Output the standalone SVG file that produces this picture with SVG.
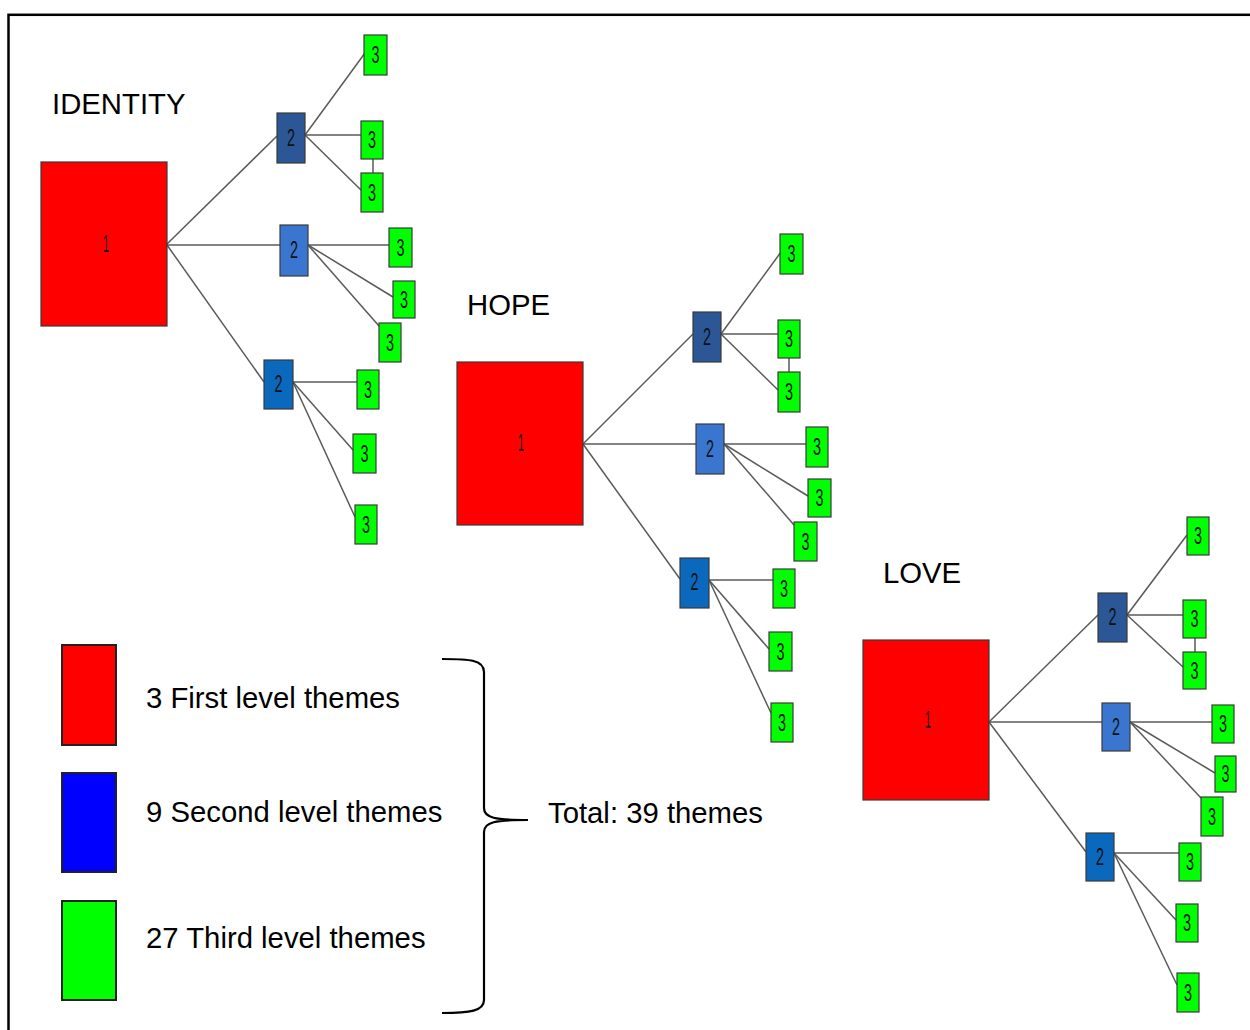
<svg xmlns="http://www.w3.org/2000/svg" width="1250" height="1030" viewBox="0 0 1250 1030">
<style>
.n rect{stroke:#3a3a3a;stroke-width:1.2}
.r{fill:#ff0000}
.d{fill:#2b5797}
.m{fill:#3a76cf}
.b{fill:#0a68bd}
.g{fill:#00ff00}
.nt{font-family:"Liberation Sans",Arial,sans-serif;font-size:23px;fill:#111;text-anchor:middle;dominant-baseline:central}
.lab{font-family:"Liberation Sans",Arial,sans-serif;font-size:29.3px;fill:#000}
#edges line{stroke:#5a5a5a;stroke-width:1.5}
.leg{stroke:#222;stroke-width:2}
</style>
<rect x="8.5" y="14.8" width="1300" height="1100" fill="none" stroke="#000" stroke-width="2.5"/>
<g id="edges">
<line x1="167" y1="244" x2="277" y2="136"/>
<line x1="167" y1="245" x2="280" y2="245"/>
<line x1="167" y1="245" x2="264" y2="382"/>
<line x1="305" y1="135" x2="365" y2="53"/>
<line x1="305" y1="135" x2="361" y2="135"/>
<line x1="305" y1="135" x2="361" y2="190"/>
<line x1="373" y1="159" x2="373" y2="173"/>
<line x1="308" y1="245" x2="389" y2="245"/>
<line x1="308" y1="245" x2="393" y2="297"/>
<line x1="308" y1="245" x2="379" y2="326"/>
<line x1="293" y1="382" x2="357" y2="382"/>
<line x1="293" y1="382" x2="353" y2="450"/>
<line x1="293" y1="382" x2="355" y2="517"/>
<line x1="583" y1="444" x2="693" y2="334"/>
<line x1="583" y1="444" x2="696" y2="444"/>
<line x1="583" y1="444" x2="680" y2="579"/>
<line x1="721" y1="334" x2="781" y2="252"/>
<line x1="721" y1="334" x2="778" y2="334"/>
<line x1="721" y1="334" x2="778" y2="390"/>
<line x1="789" y1="358" x2="789" y2="372"/>
<line x1="724" y1="444" x2="806" y2="444"/>
<line x1="724" y1="444" x2="808" y2="496"/>
<line x1="724" y1="444" x2="794" y2="525"/>
<line x1="709" y1="580" x2="773" y2="580"/>
<line x1="709" y1="580" x2="769" y2="649"/>
<line x1="709" y1="580" x2="771" y2="713"/>
<line x1="989" y1="722" x2="1098" y2="615"/>
<line x1="989" y1="722" x2="1102" y2="722"/>
<line x1="989" y1="722" x2="1086" y2="852"/>
<line x1="1127" y1="615" x2="1187" y2="535"/>
<line x1="1127" y1="615" x2="1183" y2="615"/>
<line x1="1127" y1="615" x2="1183" y2="667"/>
<line x1="1195" y1="638" x2="1195" y2="652"/>
<line x1="1130" y1="722" x2="1212" y2="722"/>
<line x1="1130" y1="722" x2="1215" y2="773"/>
<line x1="1130" y1="722" x2="1201" y2="798"/>
<line x1="1114" y1="853" x2="1179" y2="853"/>
<line x1="1114" y1="853" x2="1176" y2="920"/>
<line x1="1114" y1="853" x2="1177" y2="985"/>
</g>
<g id="identity">
<text class="lab" x="52" y="114">IDENTITY</text>
<g id="id-1" class="n"><rect class="r" x="41" y="162" width="126" height="164"/><text class="nt" x="106" y="244" textLength="6" lengthAdjust="spacingAndGlyphs">1</text></g>
<g id="id-2a" class="n"><rect class="d" x="277" y="113" width="28" height="50"/><text class="nt" x="291" y="138" textLength="8" lengthAdjust="spacingAndGlyphs">2</text></g>
<g id="id-3a" class="n"><rect class="g" x="364" y="35" width="23" height="40"/><text class="nt" x="375.5" y="55" textLength="8" lengthAdjust="spacingAndGlyphs">3</text></g>
<g id="id-3b" class="n"><rect class="g" x="361" y="121" width="22" height="38"/><text class="nt" x="372" y="140" textLength="8" lengthAdjust="spacingAndGlyphs">3</text></g>
<g id="id-3c" class="n"><rect class="g" x="361" y="173" width="22" height="39"/><text class="nt" x="372" y="192.5" textLength="8" lengthAdjust="spacingAndGlyphs">3</text></g>
<g id="id-2b" class="n"><rect class="m" x="280" y="225" width="28" height="51"/><text class="nt" x="294" y="250" textLength="8" lengthAdjust="spacingAndGlyphs">2</text></g>
<g id="id-3d" class="n"><rect class="g" x="389" y="228" width="23" height="39"/><text class="nt" x="400.5" y="247.5" textLength="8" lengthAdjust="spacingAndGlyphs">3</text></g>
<g id="id-3e" class="n"><rect class="g" x="393" y="281" width="22" height="37"/><text class="nt" x="404" y="299.5" textLength="8" lengthAdjust="spacingAndGlyphs">3</text></g>
<g id="id-3f" class="n"><rect class="g" x="379" y="323" width="22" height="39"/><text class="nt" x="390" y="342.5" textLength="8" lengthAdjust="spacingAndGlyphs">3</text></g>
<g id="id-2c" class="n"><rect class="b" x="264" y="360" width="29" height="49"/><text class="nt" x="278.5" y="384" textLength="8" lengthAdjust="spacingAndGlyphs">2</text></g>
<g id="id-3g" class="n"><rect class="g" x="357" y="370" width="22" height="39"/><text class="nt" x="368" y="389.5" textLength="8" lengthAdjust="spacingAndGlyphs">3</text></g>
<g id="id-3h" class="n"><rect class="g" x="353" y="434" width="23" height="39"/><text class="nt" x="364.5" y="453.5" textLength="8" lengthAdjust="spacingAndGlyphs">3</text></g>
<g id="id-3i" class="n"><rect class="g" x="355" y="505" width="22" height="39"/><text class="nt" x="366" y="524.5" textLength="8" lengthAdjust="spacingAndGlyphs">3</text></g>
</g>
<g id="hope">
<text class="lab" x="467" y="315">HOPE</text>
<g id="ho-1" class="n"><rect class="r" x="457" y="362" width="126" height="163"/><text class="nt" x="521" y="443" textLength="6" lengthAdjust="spacingAndGlyphs">1</text></g>
<g id="ho-2a" class="n"><rect class="d" x="693" y="312" width="28" height="50"/><text class="nt" x="707" y="337" textLength="8" lengthAdjust="spacingAndGlyphs">2</text></g>
<g id="ho-3a" class="n"><rect class="g" x="780" y="234" width="23" height="40"/><text class="nt" x="791.5" y="254" textLength="8" lengthAdjust="spacingAndGlyphs">3</text></g>
<g id="ho-3b" class="n"><rect class="g" x="778" y="320" width="22" height="38"/><text class="nt" x="789" y="339" textLength="8" lengthAdjust="spacingAndGlyphs">3</text></g>
<g id="ho-3c" class="n"><rect class="g" x="778" y="372" width="22" height="40"/><text class="nt" x="789" y="392" textLength="8" lengthAdjust="spacingAndGlyphs">3</text></g>
<g id="ho-2b" class="n"><rect class="m" x="696" y="424" width="28" height="50"/><text class="nt" x="710" y="449" textLength="8" lengthAdjust="spacingAndGlyphs">2</text></g>
<g id="ho-3d" class="n"><rect class="g" x="806" y="427" width="22" height="40"/><text class="nt" x="817" y="447" textLength="8" lengthAdjust="spacingAndGlyphs">3</text></g>
<g id="ho-3e" class="n"><rect class="g" x="808" y="479" width="23" height="38"/><text class="nt" x="819.5" y="498" textLength="8" lengthAdjust="spacingAndGlyphs">3</text></g>
<g id="ho-3f" class="n"><rect class="g" x="794" y="522" width="23" height="39"/><text class="nt" x="805.5" y="541.5" textLength="8" lengthAdjust="spacingAndGlyphs">3</text></g>
<g id="ho-2c" class="n"><rect class="b" x="680" y="558" width="29" height="50"/><text class="nt" x="694.5" y="582" textLength="8" lengthAdjust="spacingAndGlyphs">2</text></g>
<g id="ho-3g" class="n"><rect class="g" x="773" y="569" width="22" height="39"/><text class="nt" x="784" y="588.5" textLength="8" lengthAdjust="spacingAndGlyphs">3</text></g>
<g id="ho-3h" class="n"><rect class="g" x="769" y="632" width="23" height="39"/><text class="nt" x="780.5" y="651.5" textLength="8" lengthAdjust="spacingAndGlyphs">3</text></g>
<g id="ho-3i" class="n"><rect class="g" x="771" y="703" width="22" height="39"/><text class="nt" x="782" y="722.5" textLength="8" lengthAdjust="spacingAndGlyphs">3</text></g>
</g>
<g id="love">
<text class="lab" x="883" y="583">LOVE</text>
<g id="lo-1" class="n"><rect class="r" x="863" y="640" width="126" height="160"/><text class="nt" x="928" y="720" textLength="6" lengthAdjust="spacingAndGlyphs">1</text></g>
<g id="lo-2a" class="n"><rect class="d" x="1098" y="593" width="29" height="49"/><text class="nt" x="1112.5" y="617" textLength="8" lengthAdjust="spacingAndGlyphs">2</text></g>
<g id="lo-3a" class="n"><rect class="g" x="1187" y="517" width="22" height="38"/><text class="nt" x="1198" y="536" textLength="8" lengthAdjust="spacingAndGlyphs">3</text></g>
<g id="lo-3b" class="n"><rect class="g" x="1183" y="600" width="23" height="38"/><text class="nt" x="1194.5" y="619" textLength="8" lengthAdjust="spacingAndGlyphs">3</text></g>
<g id="lo-3c" class="n"><rect class="g" x="1183" y="652" width="23" height="37"/><text class="nt" x="1194.5" y="670.5" textLength="8" lengthAdjust="spacingAndGlyphs">3</text></g>
<g id="lo-2b" class="n"><rect class="m" x="1102" y="703" width="28" height="48"/><text class="nt" x="1116" y="727" textLength="8" lengthAdjust="spacingAndGlyphs">2</text></g>
<g id="lo-3d" class="n"><rect class="g" x="1212" y="705" width="22" height="38"/><text class="nt" x="1223" y="724" textLength="8" lengthAdjust="spacingAndGlyphs">3</text></g>
<g id="lo-3e" class="n"><rect class="g" x="1215" y="756" width="21" height="36"/><text class="nt" x="1225.5" y="774" textLength="8" lengthAdjust="spacingAndGlyphs">3</text></g>
<g id="lo-3f" class="n"><rect class="g" x="1201" y="797" width="22" height="39"/><text class="nt" x="1212" y="816.5" textLength="8" lengthAdjust="spacingAndGlyphs">3</text></g>
<g id="lo-2c" class="n"><rect class="b" x="1086" y="833" width="28" height="48"/><text class="nt" x="1100" y="857" textLength="8" lengthAdjust="spacingAndGlyphs">2</text></g>
<g id="lo-3g" class="n"><rect class="g" x="1179" y="843" width="22" height="38"/><text class="nt" x="1190" y="862" textLength="8" lengthAdjust="spacingAndGlyphs">3</text></g>
<g id="lo-3h" class="n"><rect class="g" x="1176" y="904" width="22" height="38"/><text class="nt" x="1187" y="923" textLength="8" lengthAdjust="spacingAndGlyphs">3</text></g>
<g id="lo-3i" class="n"><rect class="g" x="1177" y="973" width="22" height="39"/><text class="nt" x="1188" y="992.5" textLength="8" lengthAdjust="spacingAndGlyphs">3</text></g>
</g>
<g id="legend">
<rect class="leg" x="62" y="645" width="54" height="100" fill="#ff0000"/>
<rect class="leg" x="62" y="773" width="54" height="99" fill="#0000ff"/>
<rect class="leg" x="62" y="901" width="54" height="99" fill="#00ff00"/>
<text class="lab" x="146" y="708">3 First level themes</text>
<text class="lab" x="146" y="822">9 Second level themes</text>
<text class="lab" x="146" y="948">27 Third level themes</text>
<path d="M442,659 C470,659 484,660 484,672 L484,808 C484,818 495,820 528,820 C495,820 484,822 484,832 L484,1000 C484,1011 470,1013 442,1013" fill="none" stroke="#000" stroke-width="2.2"/>
<text class="lab" x="548" y="823">Total: 39 themes</text>
</g>
</svg>
